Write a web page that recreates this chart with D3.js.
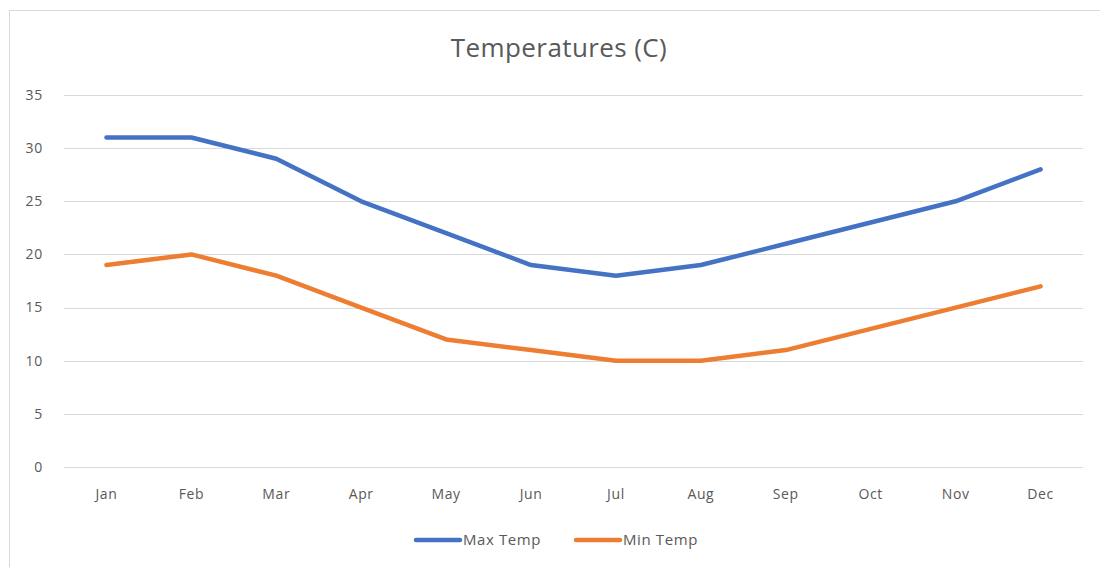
<!DOCTYPE html>
<html>
<head>
<meta charset="utf-8">
<script src="https://cdn.jsdelivr.net/npm/d3@7"></script>
<style>
  body { margin: 0; background: #fff; }
  text { font-family: "Open Sans", "Liberation Sans", sans-serif; fill: #595959; }
</style>
</head>
<body>
<svg id="chart" width="1100" height="567"></svg>
<script>
var months = ["Jan", "Feb", "Mar", "Apr", "May", "Jun", "Jul", "Aug", "Sep", "Oct", "Nov", "Dec"];
var maxTemp = [31, 31, 29, 25, 22, 19, 18, 19, 21, 23, 25, 28];
var minTemp = [19, 20, 18, 15, 12, 11, 10, 10, 11, 13, 15, 17];
var yTicks = [0, 5, 10, 15, 20, 25, 30, 35];
var seriesNames = ["Max Temp", "Min Temp"];
var seriesColors = ["#4472C4", "#ED7D31"];

var svg = d3.select("#chart");

// chart area border
svg.append("rect")
    .attr("x", 9.5).attr("y", 10.5)
    .attr("width", 1100).attr("height", 600)
    .attr("fill", "none")
    .attr("stroke", "#d9d9d9");

var plotLeft = 64, plotRight = 1083, plotTop = 95, plotBottom = 467;

var x = d3.scalePoint()
    .domain(months)
    .range([plotLeft, plotRight])
    .padding(0.5);

var y = d3.scaleLinear()
    .domain([0, 35])
    .range([plotBottom, plotTop]);

// gridlines
svg.append("g")
    .selectAll("line")
    .data(yTicks)
    .join("line")
    .attr("x1", plotLeft).attr("x2", plotRight)
    .attr("y1", d => Math.round(y(d)) + 0.5)
    .attr("y2", d => Math.round(y(d)) + 0.5)
    .attr("stroke", "#d9d9d9")
    .attr("stroke-width", 1);

// y labels
svg.append("g")
    .selectAll("text")
    .data(yTicks)
    .join("text")
    .attr("x", 43)
    .attr("y", d => y(d))
    .attr("dy", "0.35em")
    .attr("text-anchor", "end")
    .attr("font-size", 14)
    .attr("letter-spacing", 0.8)
    .text(d => d);

// x labels
svg.append("g")
    .selectAll("text")
    .data(months)
    .join("text")
    .attr("x", d => x(d))
    .attr("y", 494)
    .attr("dy", "0.35em")
    .attr("text-anchor", "middle")
    .attr("font-size", 14)
    .attr("letter-spacing", 0.6)
    .text(d => d);

// title
svg.append("text")
    .attr("x", 559)
    .attr("y", 48)
    .attr("dy", "0.35em")
    .attr("text-anchor", "middle")
    .attr("font-size", 26)
    .attr("letter-spacing", 0.4)
    .text("Temperatures (C)");

var line = d3.line()
    .x((d, i) => x(months[i]))
    .y(d => y(d));

[maxTemp, minTemp].forEach(function(vals, i){
    svg.append("path")
        .datum(vals)
        .attr("d", line)
        .attr("fill", "none")
        .attr("stroke", seriesColors[i])
        .attr("stroke-width", 4.5)
        .attr("stroke-linecap", "round")
        .attr("stroke-linejoin", "round");
});

// legend
var legendX = [416, 576];
var lg = svg.append("g")
    .selectAll("g")
    .data(seriesNames)
    .join("g")
    .attr("transform", (d, i) => `translate(${legendX[i]}, 540)`);

lg.append("line")
    .attr("x1", 0).attr("x2", 44)
    .attr("stroke", (d, i) => seriesColors[i])
    .attr("stroke-width", 4.5)
    .attr("stroke-linecap", "round");

lg.append("text")
    .attr("x", 47)
    .attr("dy", "0.35em")
    .attr("font-size", 15)
    .attr("letter-spacing", 0.6)
    .text(d => d);
</script>
</body>
</html>
